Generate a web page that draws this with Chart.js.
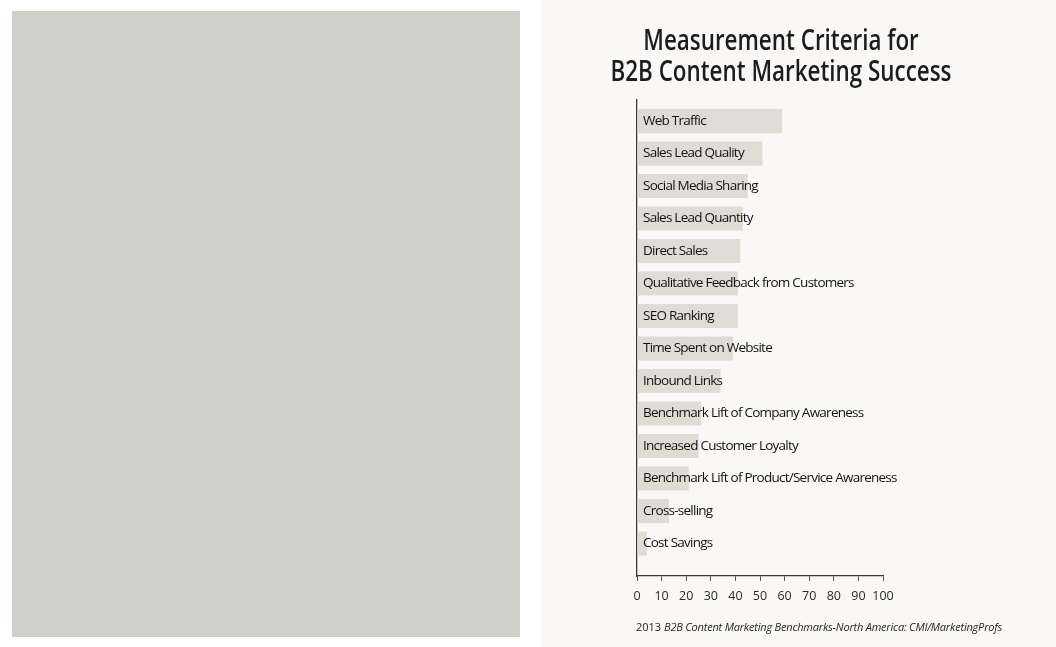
<!DOCTYPE html>
<html>
<head>
<meta charset="utf-8">
<script src="https://cdn.jsdelivr.net/npm/chart.js@4"></script>
<style>
  body { margin: 0; background: #ffffff; width: 1056px; height: 647px; overflow: hidden; position: relative; font-family: "Open Sans", sans-serif; }
  #panel { position: absolute; left: 12px; top: 11px; width: 508px; height: 626px; background: #ced0c9; }
  #pagina { position: absolute; left: 541px; top: 0; width: 515px; height: 647px; background: #f9f8f6; }
  #titulo { position: absolute; left: 0; width: 480px; top: 24px; text-align: center; color: #1c1c1c;
            font-size: 28px; font-weight: 600; line-height: 31px; transform: scaleX(0.8); transform-origin: 240px 0; }
  #canvasBox { position: absolute; left: 0; top: 0; width: 515px; height: 647px; }
  #fuente { position: absolute; left: 95px; top: 619px; font-size: 11px; color: #262626; white-space: nowrap; }
  #fuente i { letter-spacing: -0.2px; }
</style>
</head>
<body>
<div id="panel"></div>
<div id="pagina">
  <div id="canvasBox"><canvas id="graficoCriterios"></canvas></div>
  <div id="titulo">Measurement Criteria for<br>B2B Content Marketing Success</div>
  <div id="fuente">2013 <i>B2B Content Marketing Benchmarks-North America: CMI/MarketingProfs</i></div>
</div>
<script>
// datos
const criterios = [
  'Web Traffic',
  'Sales Lead Quality',
  'Social Media Sharing',
  'Sales Lead Quantity',
  'Direct Sales',
  'Qualitative Feedback from Customers',
  'SEO Ranking',
  'Time Spent on Website',
  'Inbound Links',
  'Benchmark Lift of Company Awareness',
  'Increased Customer Loyalty',
  'Benchmark Lift of Product/Service Awareness',
  'Cross-selling',
  'Cost Savings'
];
const porcentajes = [59, 51, 45, 43, 42, 41, 41, 39, 34, 26, 25, 21, 13, 4];
const ticksX = [0, 10, 20, 30, 40, 50, 60, 70, 80, 90, 100];

let puntos = criterios.map((c, i) => ({ x: porcentajes[i], y: i }));

// las etiquetas del eje y van encima de las barras y mas apretadas (letra condensada del original)
const letraApretada = {
    id: 'letraApretada',
    afterDatasetsDraw(chart) { chart.ctx.letterSpacing = '-0.75px'; },
    afterDraw(chart) { chart.ctx.letterSpacing = '0px'; }
};

let ctx = document.getElementById('graficoCriterios').getContext('2d');
let miGrafico = new Chart(ctx, {
    type: 'bar',
    data: {
        datasets: [{
            label: 'Measurement Criteria',
            data: puntos,
            backgroundColor: '#dfdcd6',
            borderWidth: 0,
            barPercentage: 0.74,
            categoryPercentage: 1
        }]
    },
    options: {
        indexAxis: 'y',
        responsive: true,
        maintainAspectRatio: false,
        animation: false,
        layout: { padding: { left: 96, right: 173, top: 100, bottom: 35 } },
        plugins: {
            legend: { display: false },
            tooltip: { enabled: false }
        },
        scales: {
            x: {
                type: 'linear',
                min: 0,
                max: 100,
                afterBuildTicks: (scale) => { scale.ticks = ticksX.map(v => ({ value: v })); },
                ticks: { color: '#2a2a2a', font: { family: 'Open Sans', size: 12.5 }, padding: 8,
                         maxRotation: 0, minRotation: 0, autoSkip: false },
                grid: { drawOnChartArea: false, drawTicks: true, tickLength: 5, color: '#555', lineWidth: 1 },
                border: { color: '#3a3a3a', width: 1.3 }
            },
            y: {
                type: 'linear',
                reverse: true,
                offset: false,
                min: -0.65,
                max: 14,
                afterBuildTicks: (scale) => { scale.ticks = criterios.map((c, i) => ({ value: i })); },
                afterFit: (scale) => { scale.width = 0; },
                ticks: {
                    mirror: true,
                    z: 1,
                    padding: 6,
                    color: '#121212',
                    font: { family: 'Open Sans', size: 13.5 },
                    callback: (v) => criterios[v] || ''
                },
                grid: { display: false, drawTicks: false },
                border: { display: true, color: '#3a3a3a', width: 1.3 }
            }
        }
    },
    plugins: [letraApretada]
});
</script>
</body>
</html>
